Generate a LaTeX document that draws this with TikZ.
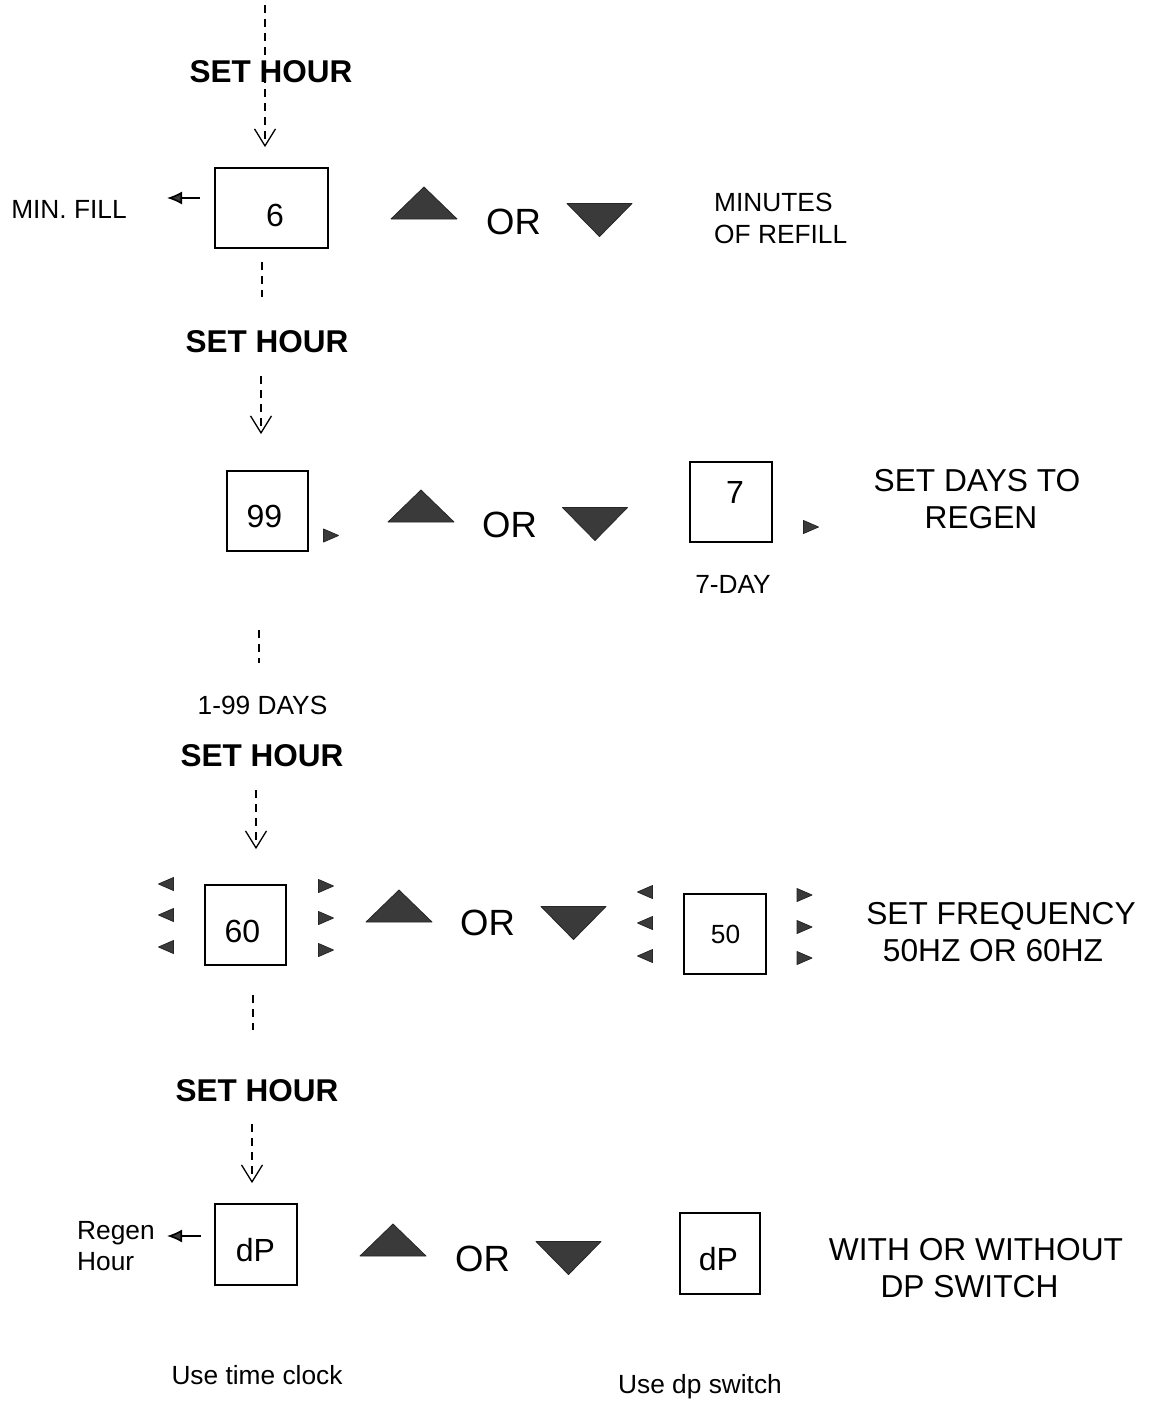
\documentclass[tikz,border=0pt]{standalone}
\usepackage{fontspec}
\setmainfont{Liberation Sans}
\usetikzlibrary{arrows.meta}
\newcommand\myfs[1]{\fontsize{#1}{#1}\selectfont}
\definecolor{trigray}{HTML}{3A3A3A}
\tikzset{
  box/.style={draw, line width=1.8pt, inner sep=0pt},
  txt/.style={inner sep=0pt, anchor=base},
  hour/.style={txt, font=\myfs{31.5}\bfseries},
  lab/.style={txt, font=\myfs{26.3}},
  big/.style={txt, font=\myfs{31.7}},
  orl/.style={txt, font=\myfs{36.5}},
  num/.style={txt, font=\myfs{32}},
  dline/.style={line width=1.6pt, dash pattern=on 8pt off 6pt},
  dflow/.style={dline, -{Straight Barb[length=17pt,width=21pt,line width=1.3pt]}},
  smallarr/.style={line width=1.6pt, -{Latex[length=15pt,width=13pt,fill=trigray]}},
  trifill/.style={fill=trigray, draw=black!85, line width=0.8pt, line join=round},
  uptri/.pic={\filldraw[trifill] (-33,16) -- (0,-16) -- (33,16) -- cycle;},
  dntri/.pic={\filldraw[trifill] (-32.5,-16.5) -- (32.5,-16.5) -- (0,16.5) -- cycle;},
  rtri/.pic={\filldraw[trifill] (-7.5,-6.5) -- (7.5,0) -- (-7.5,6.5) -- cycle;},
  ltri/.pic={\filldraw[trifill] (7.5,-6.5) -- (-7.5,0) -- (7.5,6.5) -- cycle;},
}
\begin{document}
\begin{tikzpicture}[x=1pt, y=-1pt]
\useasboundingbox[fill=white] (0,0) rectangle (1153,1401);

% ---------- Row 1 ----------
\node[hour] (sh1) at (271,82) {SET HOUR};
\coordinate (top1) at (265,5);
\node[box, minimum width=113pt, minimum height=80pt] (b1) at (271.5,208) {};
\node[num] (t1) at (275,226) {6};
\draw[dflow, shorten >=20pt] (top1) -- (top1 |- b1.north);
\node[lab, anchor=base] (minfill) at (69,218) {MIN. FILL};
\coordinate (mf1) at (200,198);
\coordinate (mf2) at (167,198);
\draw[smallarr] (mf1) -- (mf2);
\pic at (424,203) {uptri};
\node[orl] (or1) at (513.5,234) {OR};
\pic at (599.5,220) {dntri};
\node[lab, anchor=base west] (mr1) at (714,211.5) {MINUTES};
\node[lab, anchor=base west] (mr2) at (714,243.5) {OF REFILL};

% ---------- Row 2 ----------
\coordinate (d1a) at (262,262);
\coordinate (d1b) at (262,297);
\draw[dline] (d1a) -- (d1b);
\node[hour] (sh2) at (267,352) {SET HOUR};
\coordinate (d2a) at (261,376);
\node[box, minimum width=81pt, minimum height=80pt] (b2) at (267.5,511) {};
\draw[dflow, shorten >=36pt] (d2a) -- (d2a |- b2.north);
\node[num] (t2) at (264.5,527.5) {99};
\pic at (331,535.5) {rtri};
\pic at (421,506) {uptri};
\node[orl] (or2) at (509.5,537) {OR};
\pic at (595,524) {dntri};
\node[box, minimum width=82pt, minimum height=80pt] (b3) at (731,502) {};
\node[num] (t3) at (735,503.5) {7};
\pic at (811,527) {rtri};
\node[lab] (sevenday) at (733,593.5) {7-DAY};
\node[big] (sd1) at (977,491) {SET DAYS TO};
\node[big] (sd2) at (981,528.5) {REGEN};

% ---------- Row 3 ----------
\coordinate (d3a) at (259,630);
\coordinate (d3b) at (259,663);
\draw[dline] (d3a) -- (d3b);
\node[lab] (days) at (262.5,714.5) {1-99 DAYS};
\node[hour] (sh3) at (262,766) {SET HOUR};
\coordinate (d4a) at (256,790);
\node[box, minimum width=81pt, minimum height=80pt] (b4) at (245.5,925) {};
\draw[dflow, shorten >=35pt] (d4a) -- (d4a |- b4.north);
\node[num] (t4) at (242.5,942.5) {60};
\foreach \yy in {884,915,947} {\pic at (166,\yy) {ltri};}
\foreach \yy in {886,918,950} {\pic at (326,\yy) {rtri};}
\pic at (399,906) {uptri};
\node[orl] (or3) at (487.5,935) {OR};
\pic at (573.5,923) {dntri};
\foreach \yy in {892,923,956} {\pic at (645,\yy) {ltri};}
\node[box, minimum width=82pt, minimum height=80pt] (b5) at (725,934) {};
\node[lab] (t5) at (725.5,943.5) {50};
\foreach \yy in {895,927,958} {\pic at (804.5,\yy) {rtri};}
\node[big] (sf1) at (1001,924.5) {SET FREQUENCY};
\node[big] (sf2) at (993,961.5) {50HZ OR 60HZ};

% ---------- Row 4 ----------
\coordinate (d5a) at (253,995);
\coordinate (d5b) at (253,1030);
\draw[dline] (d5a) -- (d5b);
\node[hour] (sh4) at (257,1101.5) {SET HOUR};
\coordinate (d6a) at (252,1124);
\node[box, minimum width=82pt, minimum height=81pt] (b6) at (256,1244.5) {};
\draw[dflow, shorten >=20pt] (d6a) -- (d6a |- b6.north);
\node[num] (t6) at (255.5,1261.5) {dP};
\node[lab, anchor=base west] (rh1) at (77,1239.5) {Regen};
\node[lab, anchor=base west] (rh2) at (77,1270.5) {Hour};
\coordinate (rh3) at (201,1236);
\coordinate (rh4) at (167,1236);
\draw[smallarr] (rh3) -- (rh4);
\pic at (393,1240) {uptri};
\node[orl] (or4) at (482.5,1271) {OR};
\pic at (568.5,1258) {dntri};
\node[box, minimum width=80pt, minimum height=81pt] (b7) at (720,1253.5) {};
\node[num] (t7) at (718.5,1270.5) {dP};
\node[big] (ws1) at (976,1260.5) {WITH OR WITHOUT};
\node[big] (ws2) at (969.5,1297.5) {DP SWITCH};
\node[lab] (utc) at (257,1384.5) {Use time clock};
\node[lab] (uds) at (700,1393.5) {Use dp switch};
\end{tikzpicture}
\end{document}
